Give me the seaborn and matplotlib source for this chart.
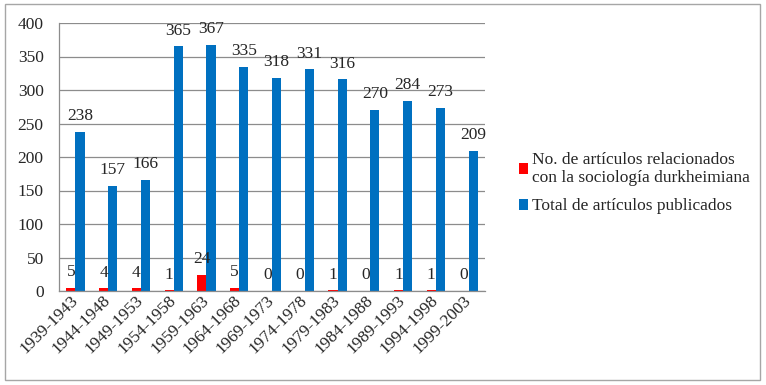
import matplotlib
matplotlib.use("Agg")
import matplotlib.pyplot as plt
import seaborn as sns
import pandas as pd
from matplotlib.patches import Rectangle, Patch

periods = ["1939-1943", "1944-1948", "1949-1953", "1954-1958", "1959-1963",
           "1964-1968", "1969-1973", "1974-1978", "1979-1983", "1984-1988",
           "1989-1993", "1994-1998", "1999-2003"]
durkheim = [5, 4, 4, 1, 24, 5, 0, 0, 1, 0, 1, 1, 0]
total = [238, 157, 166, 365, 367, 335, 318, 331, 316, 270, 284, 273, 209]
series_names = ["No. de artículos relacionados\ncon la sociología durkheimiana",
                "Total de artículos publicados"]
colors = ["#FF0000", "#0070C0"]

df = pd.DataFrame({
    "periodo": periods * 2,
    "valor": durkheim + total,
    "serie": [series_names[0]] * len(periods) + [series_names[1]] * len(periods),
})

sns.set_style("white")
plt.rcParams["font.family"] = ["Liberation Serif", "DejaVu Serif"]
FS = 12.5

fig = plt.figure(figsize=(7.66, 3.85), dpi=100)
ax = fig.add_axes([59/766, 1-291/385, (485-59)/766, (291-23)/385])

sns.barplot(data=df, x="periodo", y="valor", hue="serie", hue_order=series_names,
            palette=colors, width=0.56, ax=ax, legend=False, saturation=1,
            edgecolor="none", linewidth=0)

ax.set_ylim(0, 400)
ax.set_yticks(range(0, 401, 50))
ax.set_xlim(-0.5, len(periods) - 0.5)
ax.yaxis.grid(True, color="#8c8c8c", lw=0.9)
ax.set_axisbelow(True)
ax.set_xlabel("")
ax.set_ylabel("")
for s in ["top", "right"]:
    ax.spines[s].set_visible(False)
for s in ["left", "bottom"]:
    ax.spines[s].set_color("#8c8c8c")
    ax.spines[s].set_linewidth(0.9)
ax.tick_params(axis="y", length=0, pad=11, labelsize=FS)
ax.tick_params(axis="x", length=0, pad=5, labelsize=FS)
plt.setp(ax.get_xticklabels(), rotation=45, ha="right", rotation_mode="anchor", va="center")

for container in ax.containers:
    for bar in container:
        h = bar.get_height()
        ax.annotate(f"{int(h)}", (bar.get_x() + bar.get_width() / 2, h),
                    xytext=(0, 5.5), textcoords="offset points",
                    ha="center", va="bottom", fontsize=FS)

handles = [Patch(facecolor=c, edgecolor="none") for c in colors]
fig.legend(handles, series_names, loc="center left", bbox_to_anchor=(503/766, 1-183/385),
           frameon=False, fontsize=FS, handlelength=0.55, handleheight=0.6,
           handletextpad=0.2, labelspacing=0.7)

fig.patches.append(Rectangle((5/766, 1-380/385), 755/766, 376/385, transform=fig.transFigure,
                             fill=False, edgecolor="#a6a6a6", lw=1))

fig.savefig("out.png", dpi=100)
